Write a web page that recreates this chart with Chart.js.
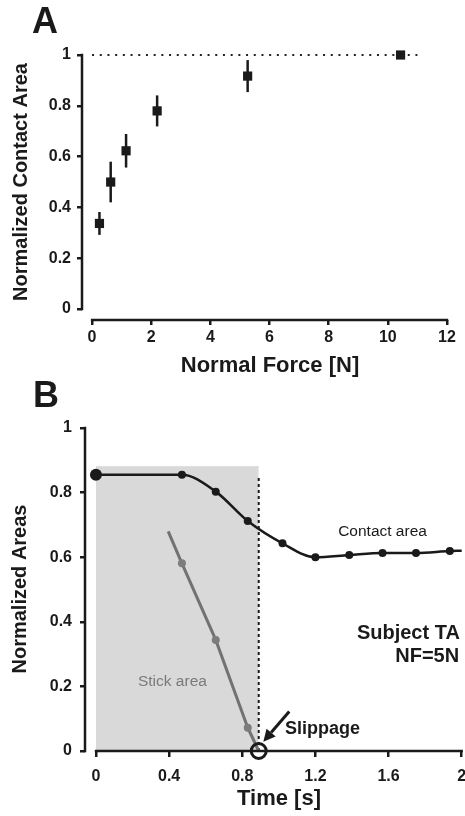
<!DOCTYPE html>
<html>
<head>
<meta charset="utf-8">
<script src="https://cdn.jsdelivr.net/npm/chart.js@4.4.0/dist/chart.umd.min.js"></script>
<style>
  html, body { margin: 0; padding: 0; background: #fff; }
  #wrap { position: relative; width: 465px; height: 816px; overflow: hidden; }
  canvas { position: absolute; left: 0; }
</style>
</head>
<body>
<div id="wrap">
  <canvas id="chartA" width="465" height="377" style="top:0"></canvas>
  <canvas id="chartB" width="465" height="439" style="top:377px"></canvas>
</div>
<script>
// ---- panel A : contact area vs normal force ----
const forceN   = [0.25, 0.63, 1.15, 2.2, 5.26, 10.43];
const areaA    = [0.337, 0.50, 0.623, 0.78, 0.917, 1.0];
const areaErr  = [0.045, 0.08, 0.066, 0.061, 0.063, 0];
const refLineX = [0, 11];
const refLineY = [1, 1];
const xTicksA  = [0, 2, 4, 6, 8, 10, 12];
const yTicksA  = [0, 0.2, 0.4, 0.6, 0.8, 1];

// ---- panel B : areas vs time ----
const timeC    = [0, 0.47, 0.655, 0.83, 1.02, 1.20, 1.385, 1.567, 1.75, 1.935, 2.0];
const contactB = [0.855, 0.855, 0.803, 0.712, 0.643, 0.60, 0.607, 0.613, 0.613, 0.619, 0.62];
const timeS    = [0.395, 0.47, 0.655, 0.83, 0.89];
const stickB   = [0.68, 0.581, 0.344, 0.072, 0];
const shadeX   = [0, 0.89];
const shadeY   = [0.88, 0.88];
const slipT    = 0.89;
const slipTopY = 0.85;
const xTicksB  = [0, 0.4, 0.8, 1.2, 1.6, 2];
const yTicksB  = [0, 0.2, 0.4, 0.6, 0.8, 1];

const FONT = '"Liberation Sans", Arial, Helvetica, sans-serif';
const INK = '#1a1a1a';

function pts(xs, ys) { return xs.map((v, i) => ({x: v, y: ys[i]})); }

function text(ctx, s, x, y, font, color, align) {
  ctx.font = font + ' ' + FONT;
  ctx.fillStyle = color || INK;
  ctx.textAlign = align || 'center';
  ctx.textBaseline = 'middle';
  ctx.fillText(s, x, y);
}

// draws error bars, detached axis lines, titles and notes
const decor = {
  id: 'decor',
  beforeDatasetsDraw(chart, args, o) {
    const {ctx, scales: {x, y}} = chart;
    if (!o.errX) return;
    ctx.save();
    ctx.strokeStyle = INK;
    ctx.lineWidth = 2.5;
    o.errX.forEach((v, i) => {
      if (!o.errD[i]) return;
      const px = x.getPixelForValue(v);
      ctx.beginPath();
      ctx.moveTo(px, y.getPixelForValue(o.errY[i] - o.errD[i]));
      ctx.lineTo(px, y.getPixelForValue(o.errY[i] + o.errD[i]));
      ctx.stroke();
    });
    ctx.restore();
  },
  afterDatasetsDraw(chart, args, o) {
    const {ctx, chartArea: ca, scales: {x, y}} = chart;
    ctx.save();
    ctx.strokeStyle = INK;
    ctx.lineWidth = 2.5;
    ctx.beginPath();
    ctx.moveTo(ca.left, y.getPixelForValue(o.yAxis[0]) + 1.2);
    ctx.lineTo(ca.left, y.getPixelForValue(o.yAxis[1]) - 1.2);
    ctx.moveTo(x.getPixelForValue(o.xAxis[0]) - 1.2, ca.bottom);
    ctx.lineTo(x.getPixelForValue(o.xAxis[1]) + 1.2, ca.bottom);
    ctx.stroke();
    ctx.restore();
  },
  afterDraw(chart, args, o) {
    const {ctx, scales: {x, y}} = chart;
    ctx.save();
    ctx.font = 'bold 36px ' + FONT;
    ctx.fillStyle = INK;
    ctx.textAlign = 'left';
    ctx.textBaseline = 'alphabetic';
    ctx.fillText(o.letter.text, o.letter.x, o.letter.y);

    text(ctx, o.xTitle.text, o.xTitle.x, o.xTitle.y, 'bold 22px');
    ctx.save();
    ctx.translate(o.yTitle.x, o.yTitle.y);
    ctx.rotate(-Math.PI / 2);
    text(ctx, o.yTitle.text, 0, 0, 'bold 20px');
    ctx.restore();

    (o.notes || []).forEach(n => {
      text(ctx, n.text, x.getPixelForValue(n.t), y.getPixelForValue(n.v), n.font, n.color, n.align);
    });

    if (o.arrow) {
      const fx = x.getPixelForValue(o.arrow.from[0]), fy = y.getPixelForValue(o.arrow.from[1]);
      const tx = x.getPixelForValue(o.arrow.to[0]), ty = y.getPixelForValue(o.arrow.to[1]);
      const a = Math.atan2(ty - fy, tx - fx);
      const L = 12, W = 6;
      const bx = tx - L * Math.cos(a), by = ty - L * Math.sin(a);
      ctx.strokeStyle = INK;
      ctx.fillStyle = INK;
      ctx.lineWidth = 3;
      ctx.beginPath();
      ctx.moveTo(fx, fy);
      ctx.lineTo(bx, by);
      ctx.stroke();
      ctx.beginPath();
      ctx.moveTo(tx, ty);
      ctx.lineTo(bx + W * Math.sin(a), by - W * Math.cos(a));
      ctx.lineTo(bx - W * Math.sin(a), by + W * Math.cos(a));
      ctx.closePath();
      ctx.fill();
    }
    ctx.restore();
  }
};

function axis(min, max, tickVals, fitSize, isX, pad, tickLen) {
  return {
    type: 'linear',
    min: min,
    max: max,
    afterFit: s => {
      if (isX) s.height = fitSize; else s.width = fitSize;
      // no extra room for the end labels, the plot area is fixed
      s.paddingLeft = s.paddingRight = s.paddingTop = s.paddingBottom = 0;
    },
    afterBuildTicks: s => { s.ticks = tickVals.map(v => ({value: v})); },
    ticks: {
      color: INK,
      font: {family: FONT, size: 16, weight: 'bold'},
      padding: pad,
      autoSkip: false,
      maxRotation: 0,
      callback: v => String(v)
    },
    grid: {drawOnChartArea: false, color: INK, lineWidth: 2.5, tickLength: tickLen},
    border: {display: false}
  };
}

new Chart(document.getElementById('chartA'), {
  type: 'line',
  data: {
    datasets: [
      {
        data: pts(forceN, areaA),
        showLine: false,
        pointStyle: 'rect',
        pointRadius: 6.5,
        pointBackgroundColor: INK,
        pointBorderWidth: 0,
        clip: false,
        order: 1
      },
      {
        data: pts(refLineX, refLineY),
        borderColor: '#222',
        borderWidth: 2.2,
        borderDash: [2, 5.7],
        pointRadius: 0,
        clip: false,
        order: 2
      }
    ]
  },
  options: {
    responsive: false,
    animation: false,
    devicePixelRatio: 1,
    layout: {autoPadding: false, padding: {left: 0, right: 18, top: 55, bottom: 0}},
    scales: {
      x: axis(-0.34, 12, xTicksA, 57, true, 3, 5),
      y: axis(-0.043, 1, yTicksA, 82, false, 6, 5)
    },
    plugins: {
      legend: {display: false},
      tooltip: {enabled: false},
      decor: {
        yAxis: [0, 1], xAxis: [0, 12],
        errX: forceN, errY: areaA, errD: areaErr,
        letter: {text: 'A', x: 32, y: 33},
        yTitle: {text: 'Normalized Contact Area', x: 21, y: 182},
        xTitle: {text: 'Normal Force [N]', x: 270, y: 366}
      }
    }
  },
  plugins: [decor]
});

new Chart(document.getElementById('chartB'), {
  type: 'line',
  data: {
    datasets: [
      {
        data: [{x: slipT, y: 0}],
        showLine: false,
        pointRadius: 7.5,
        pointBorderWidth: 3,
        pointBorderColor: INK,
        pointBackgroundColor: 'rgba(0,0,0,0)',
        clip: false,
        order: 0
      },
      {
        data: pts(timeC, contactB),
        borderColor: INK,
        borderWidth: 2.5,
        cubicInterpolationMode: 'monotone',
        pointRadius: timeC.map((t, i) => i === 0 ? 6 : (i === timeC.length - 1 ? 0 : 4)),
        pointBackgroundColor: INK,
        pointBorderWidth: 0,
        clip: false,
        order: 1
      },
      {
        data: pts(timeS, stickB),
        borderColor: '#727272',
        borderWidth: 3,
        pointRadius: timeS.map((t, i) => (i === 0 || i === timeS.length - 1) ? 0 : 4),
        pointBackgroundColor: '#7c7c7c',
        pointBorderWidth: 0,
        clip: false,
        order: 2
      },
      {
        data: [{x: slipT, y: 0}, {x: slipT, y: slipTopY}],
        borderColor: INK,
        borderWidth: 2,
        borderDash: [3, 3],
        pointRadius: 0,
        order: 3
      },
      {
        data: pts(shadeX, shadeY),
        borderColor: '#d9d9d9',
        borderWidth: 1,
        backgroundColor: '#d9d9d9',
        fill: 'origin',
        pointRadius: 0,
        order: 4
      }
    ]
  },
  options: {
    responsive: false,
    animation: false,
    devicePixelRatio: 1,
    layout: {autoPadding: false, padding: {left: 0, right: 3.3, top: 51, bottom: 0}},
    scales: {
      x: axis(-0.06, 2, xTicksB, 65, true, 10, 6),
      y: axis(0, 1, yTicksB, 85, false, 8, 5)
    },
    plugins: {
      legend: {display: false},
      tooltip: {enabled: false},
      decor: {
        yAxis: [0, 1], xAxis: [0, 2],
        letter: {text: 'B', x: 33, y: 30},
        yTitle: {text: 'Normalized Areas', x: 20, y: 212},
        xTitle: {text: 'Time [s]', x: 279, y: 422},
        notes: [
          {text: 'Contact area', t: 1.567, v: 0.678, font: '15.5px', color: INK, align: 'center'},
          {text: 'Stick area', t: 0.418, v: 0.2145, font: '15.5px', color: '#7a7a7a', align: 'center'},
          {text: 'Subject TA', t: 1.99, v: 0.364, font: 'bold 20px', color: INK, align: 'right'},
          {text: 'NF=5N', t: 1.986, v: 0.294, font: 'bold 20px', color: INK, align: 'right'},
          {text: 'Slippage', t: 1.034, v: 0.068, font: 'bold 18px', color: INK, align: 'left'}
        ],
        arrow: {from: [1.057, 0.122], to: [0.915, 0.029]}
      }
    }
  },
  plugins: [decor]
});
</script>
</body>
</html>
